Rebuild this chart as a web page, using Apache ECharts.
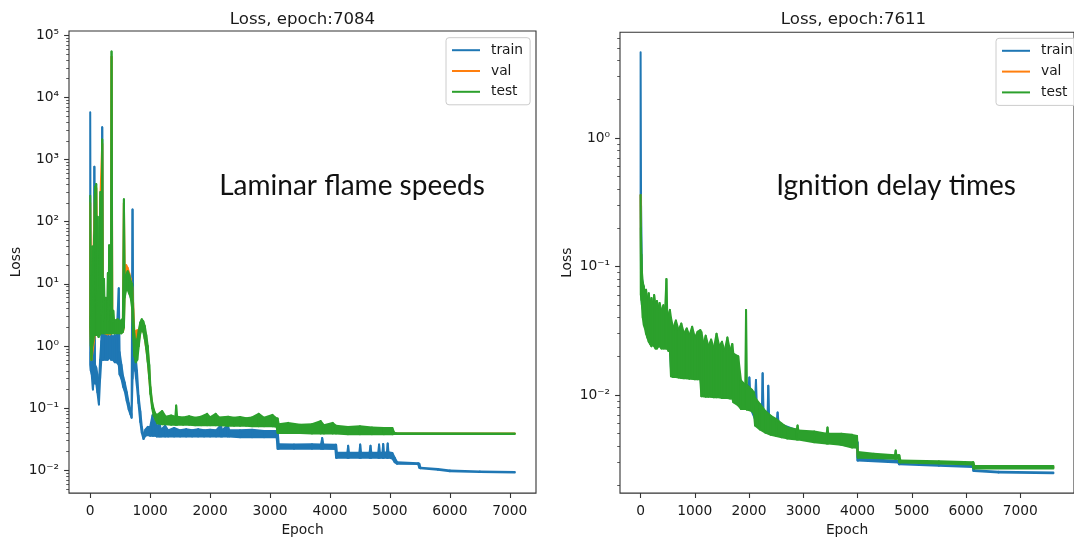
<!DOCTYPE html>
<html><head><meta charset="utf-8">
<script src="https://cdn.jsdelivr.net/npm/echarts@6/dist/echarts.min.js"></script>
<style>html,body{margin:0;padding:0;background:#fff}#c{width:1074px;height:542px}</style>
</head><body><div id="c"></div>
<script>
// ---------- DATA: [epoch, low, high] envelopes ----------
const legendNames = ['train', 'val', 'test'];
const xTicks = [0, 1000, 2000, 3000, 4000, 5000, 6000, 7000];
const lfsYTicks = [0.01, 0.1, 1, 10, 100, 1000, 10000, 100000];
const idtYTicks = [0.01, 0.1, 1];

const lfsTrain = [
[0,0.5,5800],[10,0.4,0.8],[25,0.35,0.7],[45,0.2,0.5],[60,0.3,0.6],[69,0.3,770],[80,0.25,0.5],
[100,0.25,0.45],[120,0.18,0.35],[145,0.115,0.25],[165,0.3,0.6],[185,0.6,1.2],[200,0.6,3300],
[212,0.6,1.3],[230,0.6,1.4],[247,0.65,5.9],[262,0.6,1.4],[290,0.6,1.5],[320,0.65,1.4],[350,0.6,1.5],
[380,0.6,1.4],[410,0.55,1.5],[440,0.55,1.4],[476,0.5,8.5],[490,0.35,0.8],[520,0.3,0.5],[550,0.22,0.32],
[575,0.19,0.26],[610,0.13,0.18],[643,0.095,0.12],[670,0.08,0.095],[690,0.07,0.08],[706,0.3,158],
[720,0.6,1.4],[750,0.4,0.8],[780,0.22,0.4],[805,0.12,0.16],[835,0.06,0.09],[861,0.04,0.05],
[889,0.032,0.036],[920,0.036,0.045],[960,0.037,0.05],[1000,0.036,0.05],[1040,0.036,0.077],
[1060,0.036,0.05],[1090,0.036,0.068],[1110,0.035,0.046],[1150,0.035,0.06],[1180,0.035,0.045],
[1250,0.035,0.052],[1300,0.035,0.044],[1400,0.035,0.048],[1500,0.035,0.044],[1600,0.035,0.046],
[1700,0.035,0.044],[1800,0.035,0.046],[1900,0.035,0.044],[2000,0.035,0.045],[2100,0.035,0.044],
[2180,0.035,0.053],[2200,0.035,0.044],[2295,0.035,0.053],[2320,0.035,0.044],[2500,0.034,0.044],
[2700,0.034,0.045],[2900,0.034,0.043],[3110,0.034,0.043],[3127,0.0222,0.043],[3145,0.0222,0.0262],
[3400,0.0222,0.026],[3700,0.0222,0.0262],[3850,0.0222,0.026],[3870,0.0222,0.033],[3890,0.0222,0.026],
[4090,0.022,0.0258],[4102,0.016,0.0258],[4115,0.016,0.0192],[4290,0.016,0.0192],[4303,0.016,0.0248],
[4316,0.016,0.0192],[4490,0.016,0.0192],[4504,0.016,0.026],[4518,0.016,0.0192],[4660,0.016,0.0192],
[4676,0.016,0.0248],[4690,0.016,0.0192],[4805,0.016,0.0192],[4819,0.016,0.026],[4833,0.016,0.0192],
[4875,0.016,0.0192],[4888,0.016,0.0265],[4900,0.016,0.0192],[4950,0.016,0.0195],[4963,0.016,0.027],
[4976,0.016,0.0195],[5040,0.0155,0.019],[5080,0.0135,0.016],[5120,0.0127,0.0135],[5470,0.0126,0.013],
[5490,0.011,0.0128],[5510,0.0108,0.011],[5800,0.0102,0.0105],[6000,0.0097,0.0099],[6500,0.0094,0.0096],
[7084,0.0092,0.0094]
];
const lfsVal = [
[0,2,200],[20,0.6,2],[80,1.6,300],[100,1.65,350],[130,1.65,3],[170,1.65,250],[200,1.65,1800],[212,1.65,2.5],
[290,1.55,2.2],[300,1.65,2.2],[335,1.55,2.3],[345,1.65,2.4],[356,1.65,45000],[370,1.65,2.4],[545,1.7,2.5],
[562,2,200],[575,10,18],[600,12,20],[625,10,18],[650,9,15],[675,7,12],[700,5,9],[715,1.8,5],[735,1.3,1.8],
[760,1.3,1.7],[785,1.4,1.8],[810,1.2,1.6],[835,1.7,2.3],[860,1.9,2.5],[900,1.6,2.1],[960,0.6,0.9],
[1004,0.19,0.2],[1033,0.11,0.115],[1090,0.07,0.072],[1200,0.062,0.064],[3100,0.058,0.06],[3130,0.046,0.047],
[5040,0.043,0.044],[5080,0.039,0.039],[7084,0.039,0.039]
];
const lfsTest = [
[0,2,263],[10,1.0,3],[20,0.6,2],[35,1,40],[50,1.2,3],[65,1.5,60],[80,1.5,365],[92,1.5,4],[100,1.6,405],
[112,1.5,5],[125,1.5,120],[140,1.4,3],[155,1.5,30],[170,1.6,300],[185,1.6,3],[200,1.6,2100],[212,1.6,3],
[230,1.6,12],[245,1.6,2.5],[262,1.6,6],[280,1.6,2.5],[295,1.6,15],[305,1.6,2.6],[316,1.6,42],[330,1.6,2.5],
[345,1.6,3.7],[356,1.6,55000],[368,1.6,2.6],[385,1.6,3.7],[400,1.6,2.5],[430,1.6,2.6],[460,1.6,2.7],
[490,1.6,2.5],[520,1.6,2.6],[545,1.7,2.8],[562,2,230],[575,6,12],[600,8,14],[625,8,16],[650,7,14],
[675,6,11],[700,4,10],[715,1.5,4],[735,0.7,1.6],[760,0.55,1.0],[785,0.6,1.3],[810,1.0,1.8],[835,1.6,2.4],
[860,1.9,2.7],[885,1.7,2.5],[910,1.3,2.1],[935,0.9,1.5],[960,0.55,1.0],[985,0.3,0.5],[1004,0.17,0.22],
[1033,0.1,0.125],[1060,0.075,0.095],[1090,0.065,0.08],[1120,0.057,0.078],[1200,0.055,0.09],
[1260,0.055,0.073],[1350,0.054,0.076],[1420,0.054,0.073],[1434,0.054,0.11],[1450,0.054,0.073],
[1550,0.054,0.071],[1650,0.054,0.074],[1750,0.053,0.07],[1850,0.053,0.073],[1950,0.053,0.081],
[2000,0.053,0.071],[2094,0.053,0.081],[2150,0.053,0.071],[2300,0.052,0.073],[2400,0.052,0.07],
[2500,0.052,0.072],[2600,0.052,0.069],[2700,0.051,0.071],[2811,0.051,0.081],[2900,0.051,0.07],
[3040,0.051,0.078],[3110,0.05,0.068],[3127,0.04,0.068],[3145,0.04,0.055],[3300,0.04,0.058],
[3500,0.04,0.054],[3700,0.039,0.055],[3844,0.039,0.062],[3900,0.039,0.053],[4045,0.039,0.058],
[4100,0.039,0.052],[4300,0.038,0.05],[4500,0.038,0.051],[4700,0.038,0.049],[4900,0.038,0.048],
[5040,0.038,0.048],[5070,0.0385,0.0405],[5100,0.0385,0.0395],[7084,0.0385,0.039]
];

const idtTrain = [
[0,0.36,4.66],[8,0.08,0.3],[25,0.05,0.08],[100,0.035,0.055],[300,0.03,0.045],[540,0.026,0.04],
[560,0.016,0.03],[1100,0.015,0.025],[1120,0.011,0.02],[1700,0.011,0.018],[1800,0.009,0.013],
[1990,0.0085,0.011],[2005,0.0085,0.0137],[2020,0.008,0.0105],[2110,0.0065,0.009],[2127,0.0065,0.0131],
[2145,0.006,0.0078],[2235,0.0056,0.0072],[2250,0.0056,0.0148],[2268,0.0055,0.007],[2340,0.0053,0.0068],
[2354,0.0053,0.0118],[2370,0.0052,0.0065],[2510,0.005,0.0062],[2526,0.005,0.0073],[2545,0.0049,0.006],
[3000,0.0045,0.0051],[3600,0.0042,0.0047],[3990,0.0039,0.0043],[4000,0.0031,0.0043],[4012,0.0031,0.0032],
[4750,0.00298,0.00308],[4764,0.0029,0.0031],[4778,0.0029,0.00292],[5500,0.00282,0.00286],
[6125,0.00276,0.0028],[6135,0.00258,0.0028],[6150,0.00257,0.0026],[6600,0.0025,0.00253],[7611,0.00246,0.0025]
];
const idtVal = [
[0,0.36,0.36],[10,0.07,0.07],[50,0.045,0.045],[200,0.035,0.035],[540,0.03,0.03],[560,0.02,0.02],
[1100,0.018,0.018],[1120,0.014,0.014],[1700,0.013,0.013],[1800,0.011,0.011],[2100,0.0085,0.0085],
[2120,0.0065,0.0065],[2500,0.0053,0.0053],[3000,0.0047,0.0047],[3990,0.0042,0.0042],[4005,0.0034,0.0034],
[4750,0.0033,0.0033],[4790,0.00304,0.00304],[6130,0.00294,0.00294],[6160,0.00274,0.00274],[7611,0.00274,0.00274]
];
const idtTest = [
[0,0.36,0.36],[5,0.06,0.2],[15,0.055,0.124],[25,0.05,0.09],[40,0.04,0.075],[60,0.035,0.07],[80,0.033,0.058],
[100,0.03,0.066],[125,0.028,0.055],[150,0.026,0.062],[175,0.025,0.05],[200,0.024,0.057],[225,0.025,0.049],
[250,0.024,0.06],[275,0.023,0.05],[300,0.023,0.054],[330,0.024,0.047],[350,0.024,0.052],[385,0.023,0.045],
[420,0.023,0.05],[450,0.023,0.044],[476,0.023,0.08],[490,0.023,0.045],[515,0.022,0.042],[540,0.022,0.046],
[560,0.014,0.04],[600,0.0138,0.033],[650,0.0138,0.038],[700,0.0137,0.032],[750,0.0136,0.036],[800,0.0135,0.03],
[850,0.0135,0.033],[900,0.0134,0.029],[950,0.0134,0.034],[1000,0.0133,0.028],[1050,0.0133,0.031],
[1100,0.0133,0.032],[1120,0.0098,0.031],[1160,0.0098,0.025],[1200,0.0097,0.029],[1250,0.0097,0.024],
[1300,0.0097,0.027],[1350,0.0096,0.023],[1400,0.0096,0.03],[1450,0.0096,0.024],[1500,0.0095,0.026],
[1550,0.0095,0.022],[1600,0.0095,0.028],[1650,0.0094,0.022],[1690,0.0094,0.025],[1710,0.0088,0.021],
[1800,0.0083,0.02],[1850,0.0078,0.013],[1930,0.0078,0.012],[1944,0.0078,0.046],[1960,0.0077,0.012],
[2050,0.0075,0.011],[2090,0.0072,0.0105],[2110,0.0058,0.0095],[2200,0.0054,0.0085],[2300,0.0051,0.0075],
[2400,0.0049,0.0069],[2500,0.0048,0.0065],[2600,0.0047,0.006],[2700,0.0046,0.0056],[2880,0.0045,0.0054],
[2894,0.0045,0.0058],[2910,0.0045,0.0053],[3200,0.0043,0.0052],[3430,0.0042,0.005],[3446,0.0042,0.0056],
[3460,0.0042,0.005],[3700,0.0041,0.005],[3900,0.0039,0.0049],[3990,0.0039,0.0048],[4005,0.00325,0.0036],
[4300,0.00323,0.0035],[4690,0.0032,0.0034],[4703,0.0032,0.0037],[4716,0.0032,0.0034],[4755,0.0032,0.0034],
[4770,0.003,0.0034],[4790,0.00298,0.0031],[5500,0.00293,0.00305],[6125,0.00288,0.003],[6135,0.0027,0.003],
[6155,0.00268,0.0028],[7611,0.00268,0.0028]
];

// ---------- STYLE / LAYOUT ----------
const FONT = 'DejaVu Sans';
const TXT = '#1a1a1a';
const AX = '#333333';
const COLORS = {train: '#1f77b4', val: '#ff7f0e', test: '#2ca02c'};

function supNum(n) {
  const m = {'-':'\u207b','0':'\u2070','1':'\u00b9','2':'\u00b2','3':'\u00b3','4':'\u2074','5':'\u2075','6':'\u2076','7':'\u2077','8':'\u2078','9':'\u2079'};
  return String(n).split('').map(c => m[c]).join('');
}
function logLabel(v) {
  const e = Math.log10(v), r = Math.round(e);
  if (Math.abs(e - r) > 1e-6) return '';
  return '10' + supNum(r);
}
function plainLabel(v) { return String(Math.round(v)); }
function minorTicks(lo, hi) {
  const out = [];
  for (let n = -5; n <= 6; n++) for (let k = 2; k <= 9; k++) {
    const v = k * Math.pow(10, n);
    if (v > lo && v < hi) out.push(v);
  }
  return out;
}
function bandRenderer(color, len) {
  return function (params, api) {
    const i = params.dataIndexInside;
    if (i >= len - 1) return null;
    const x0 = api.value(0, i), lo0 = api.value(1, i), hi0 = api.value(2, i);
    const x1 = api.value(0, i + 1), lo1 = api.value(1, i + 1), hi1 = api.value(2, i + 1);
    const pts = [api.coord([x0, hi0]), api.coord([x1, hi1]), api.coord([x1, lo1]), api.coord([x0, lo0])];
    return {
      type: 'polygon', silent: true,
      shape: {points: pts},
      style: {fill: color, stroke: color, lineWidth: 2, lineJoin: 'round'}
    };
  };
}

const LFS = {min: 0.0043, max: 117200, xmin: -354, xmax: 7437};
const IDT = {min: 0.001726, max: 6.65, xmin: -380, xmax: 7991};

const tickLabelStyle = {fontFamily: FONT, fontSize: 13.8, color: TXT};
const nameStyle = {fontFamily: FONT, fontSize: 13.8, color: TXT};

function xAxisFor(g, ext) {
  return {
    gridIndex: g, type: 'value', min: ext.xmin, max: ext.xmax, position: 'bottom',
    axisLine: {show: false, onZero: false}, splitLine: {show: false},
    axisTick: {show: true, customValues: xTicks, length: 4.9, lineStyle: {color: AX, width: 1.1}},
    axisLabel: Object.assign({customValues: xTicks, margin: 11, formatter: plainLabel}, tickLabelStyle),
    name: 'Epoch', nameLocation: 'middle', nameGap: 29, nameTextStyle: nameStyle
  };
}
function yAxisFor(g, ext, ticks) {
  return {
    gridIndex: g, type: 'log', logBase: 10, min: ext.min, max: ext.max, position: 'left',
    axisLine: {show: false, onZero: false}, splitLine: {show: false}, minorTick: {show: false},
    axisTick: {show: true, customValues: ticks, length: 4.9, lineStyle: {color: AX, width: 1.1}},
    axisLabel: Object.assign({customValues: ticks, margin: 10, formatter: logLabel}, tickLabelStyle),
    name: 'Loss', nameLocation: 'middle', nameGap: 46, nameRotate: 90, nameTextStyle: nameStyle
  };
}
function yMinorFor(g, ext) {
  return {
    gridIndex: g, type: 'log', logBase: 10, min: ext.min, max: ext.max, position: 'left',
    axisLine: {show: false, onZero: false}, splitLine: {show: false}, axisLabel: {show: false},
    axisTick: {show: true, customValues: minorTicks(ext.min, ext.max), length: 2.8, lineStyle: {color: AX, width: 0.8}}
  };
}
function bandSeries(name, data, xi, yi) {
  return {
    type: 'custom', name: name, xAxisIndex: xi, yAxisIndex: yi, data: data,
    encode: {x: 0, y: [1, 2]}, itemStyle: {color: COLORS[name]},
    renderItem: bandRenderer(COLORS[name], data.length), clip: false, animation: false
  };
}
function legendAt(left, top) {
  return {
    left: left, top: top, orient: 'vertical', data: legendNames, icon: 'rect',
    itemWidth: 28, itemHeight: 2, itemGap: 6.8, padding: [5.5, 7, 6, 6],
    backgroundColor: 'rgba(255,255,255,0.8)', borderColor: '#cccccc', borderWidth: 1, borderRadius: 3,
    selectedMode: false,
    textStyle: {fontFamily: FONT, fontSize: 13.8, color: TXT, lineHeight: 14, padding: [0, 0, 0, 6]}
  };
}

const chart = echarts.init(document.getElementById('c'), null, {renderer: 'canvas'});
chart.setOption({
  animation: false,
  backgroundColor: '#ffffff',
  grid: [
    {left: 69, top: 31, width: 467, height: 465.5, show: true, borderColor: AX, borderWidth: 1.1, backgroundColor: '#fff'},
    {left: 620, top: 32.3, width: 467, height: 462, show: true, borderColor: AX, borderWidth: 1.1, backgroundColor: '#fff'}
  ],
  xAxis: [xAxisFor(0, LFS), xAxisFor(1, IDT)],
  yAxis: [yAxisFor(0, LFS, lfsYTicks), yMinorFor(0, LFS), yAxisFor(1, IDT, idtYTicks), yMinorFor(1, IDT)],
  legend: [legendAt(446, 37.7), legendAt(996, 38.3)],
  series: [
    bandSeries('train', lfsTrain, 0, 0),
    bandSeries('val', lfsVal, 0, 0),
    bandSeries('test', lfsTest, 0, 0),
    bandSeries('train', idtTrain, 1, 2),
    bandSeries('val', idtVal, 1, 2),
    bandSeries('test', idtTest, 1, 2)
  ],
  graphic: [
    {type: 'text', x: 302.5, y: 19.5, style: {text: 'Loss, epoch:7084', font: '16.6px "DejaVu Sans"', fill: TXT, align: 'center', verticalAlign: 'middle'}},
    {type: 'text', x: 853.5, y: 19.5, style: {text: 'Loss, epoch:7611', font: '16.6px "DejaVu Sans"', fill: TXT, align: 'center', verticalAlign: 'middle'}},
    {type: 'text', x: 352, y: 186, style: {text: 'Laminar flame speeds', font: '28px Lato', fill: '#111', align: 'center', verticalAlign: 'middle'}},
    {type: 'text', x: 896, y: 186, style: {text: 'Ignition delay times', font: '28px Lato', fill: '#111', align: 'center', verticalAlign: 'middle'}}
  ]
});
</script></body></html>
